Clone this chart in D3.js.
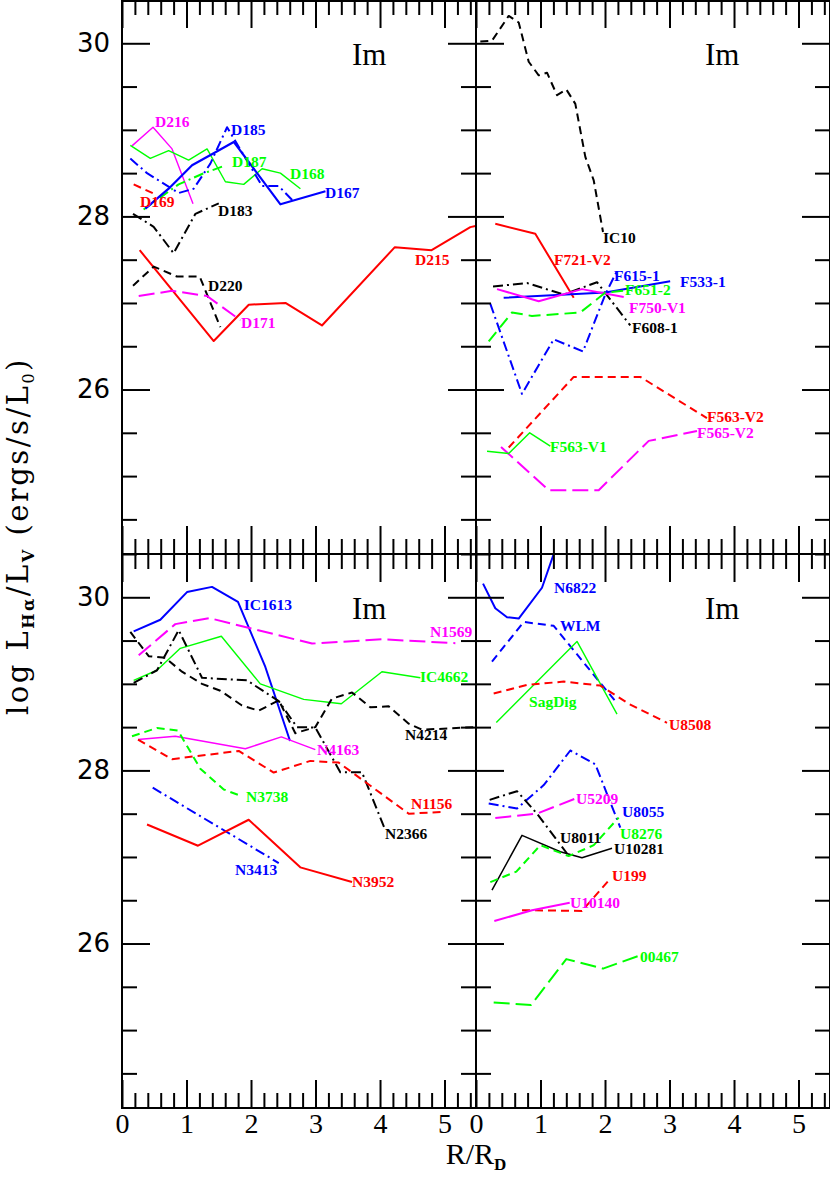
<!DOCTYPE html>
<html><head><meta charset="utf-8">
<script src="https://cdn.jsdelivr.net/npm/d3@7"></script>
<style>
html,body{margin:0;padding:0;background:#fff;}
svg{display:block;}
</style>
</head><body>
<svg id="chart" width="830" height="1179"></svg>
<script>
// ---------------- DATA ----------------
const xMajorTicks = [0, 1, 2, 3, 4, 5];
const yMajorTicks = [26, 28, 30];
const panelTag = "Im";

// Top-left panel
const tlNames = ["D215","D220","D171","D183","D169","D216","D168","D187","D185","D167"];
const tlX = [
  [0.274,1.422,1.965,2.534,3.10,4.23,4.80,5.40,5.48],
  [0.171,0.491,0.853,1.205,1.525],
  [0.259,0.776,1.318,1.836],
  [0.171,0.491,0.80,1.138,1.50],
  [0.181,0.517],
  [0.155,0.481,0.776,1.101],
  [0.129,0.439,0.723,1.033,1.319,1.603,1.887,2.172,2.456,2.766],
  [0.335,0.878,1.241,1.603],
  [0.129,0.388,0.878,1.111,1.370,1.629,2.172,2.43,2.638],
  [0.362,0.723,1.086,1.421,1.732,2.456,3.154]
];
const tlY = [
  [27.61,26.56,26.98,27.00,26.74,27.645,27.61,27.876,27.89],
  [27.20,27.42,27.305,27.305,26.72],
  [27.08,27.14,27.08,26.80],
  [28.03,27.88,27.575,28.03,28.15],
  [28.37,28.255],
  [28.815,29.03,28.78,28.147],
  [28.82,28.67,28.76,28.65,28.78,28.40,28.37,28.55,28.50,28.32],
  [28.08,28.37,28.49,28.59],
  [28.668,28.50,28.27,28.32,28.61,29.03,28.35,28.35,28.19],
  [28.09,28.32,28.59,28.73,28.86,28.14,28.29]
];

// Top-right panel
const trNames = ["IC10","F721-V2","F608-1","F533-1","F750-V1","F651-2","F615-1","F563-V2","F565-V2","F563-V1"];
const trX = [
  [0.067,0.248,0.507,0.662,0.817,0.972,1.101,1.256,1.40,1.54,1.695,1.825,1.969],
  [0.299,0.919,1.515],
  [0.264,0.791,1.36,1.876,2.392],
  [0.429,2.005,3.01],
  [0.326,0.972,1.643,2.29],
  [0.197,0.558,0.868,1.617,2.005,2.28],
  [0.222,0.713,1.205,1.659,2.005,2.186],
  [0.507,1.515,2.547,3.58],
  [0.388,1.127,1.902,2.678,3.426],
  [0.171,0.507,0.833,1.152]
];
const trY = [
  [30.02,30.03,30.316,30.24,29.787,29.63,29.66,29.40,29.467,29.30,28.687,28.417,27.82],
  [27.915,27.80,27.06],
  [27.19,27.23,27.097,27.24,26.74],
  [27.06,27.12,27.25],
  [27.16,27.02,27.16,27.07],
  [26.556,26.89,26.85,26.89,27.12,27.14],
  [26.99,25.95,26.58,26.44,27.10,27.37],
  [25.33,26.146,26.146,25.67],
  [25.337,24.837,24.837,25.407,25.52],
  [25.288,25.26,25.50,25.345]
];

// Bottom-left panel
const blNames = ["IC1613","N1569","IC4662","N4214","N2366","N4163","N1156","N3738","N3413","N3952"];
const blX = [
  [0.181,0.594,1.008,1.395,1.798,2.222,2.605],
  [0.259,0.826,1.353,2.946,4.03,5.168],
  [0.181,0.543,0.904,1.54,2.144,2.817,3.40,4.03,4.625],
  [0.129,0.414,0.671,0.930,1.24,1.525,1.86,2.12,2.43,2.687,2.997,3.256,3.566,3.85,4.134,4.445,4.65,5.48],
  [0.181,0.543,0.879,1.240,1.938,2.43,2.713,2.997,3.384,3.72,4.082],
  [0.248,0.826,1.912,2.47,2.997],
  [0.248,0.775,1.81,2.352,2.92,3.36,4.445,4.96],
  [0.155,0.543,0.868,1.214,1.577,1.86],
  [0.476,2.43],
  [0.388,1.178,1.964,2.764,3.566]
];
const blY = [
  [29.607,29.74,30.06,30.12,29.946,29.195,28.34],
  [29.33,29.69,29.76,29.465,29.515,29.47],
  [29.04,29.157,29.41,29.55,29.00,28.82,28.77,29.14,29.07],
  [29.60,29.32,29.30,29.14,29.00,28.92,28.75,28.69,28.81,28.43,28.50,28.83,28.90,28.73,28.74,28.54,28.47,28.50],
  [29.01,29.157,29.62,29.07,29.04,28.80,28.50,28.495,27.98,27.98,27.31],
  [28.356,28.395,28.25,28.387,28.24],
  [28.356,28.13,28.225,27.975,28.11,28.09,27.50,27.52],
  [28.395,28.49,28.46,28.02,27.78,27.70],
  [27.80,26.93],
  [27.375,27.13,27.43,26.88,26.71]
];

// Bottom-right panel
const brNames = ["N6822","WLM","SagDig","U8508","U8055","U8011","U10281","U8276","U5209","U199","U10140","00467"];
const brX = [
  [0.109,0.299,0.481,0.662,1.023,1.205],
  [0.248,0.74,1.205,1.953,2.16],
  [0.315,1.566,2.186],
  [0.274,0.791,1.36,1.927,2.367,2.961],
  [0.197,0.636,1.05,1.462,1.85,2.237],
  [0.212,0.636,0.946,1.411],
  [0.248,0.713,1.307,1.643,2.109],
  [0.222,0.625,0.997,1.437,1.825,2.212],
  [0.299,0.946,1.54],
  [0.713,1.643,2.082],
  [0.284,0.868,1.453],
  [0.274,0.853,1.40,1.969,2.547]
];
const brY = [
  [30.158,29.873,29.77,29.754,30.11,30.50],
  [29.257,29.715,29.67,28.987,28.80],
  [28.553,29.49,28.65],
  [28.888,28.987,29.026,28.98,28.77,28.55],
  [27.617,27.56,27.83,28.23,28.07,27.34],
  [27.66,27.76,27.50,27.04],
  [26.616,27.25,27.06,26.99,27.10],
  [26.71,26.83,27.136,27.01,27.136,27.455],
  [27.45,27.50,27.675],
  [26.385,26.377,26.75],
  [26.26,26.385,26.47],
  [25.32,25.29,25.82,25.71,25.865]
];

// ---------------- LABEL ANCHORS (data units, left/middle of text) ----------------
const labelAt = {
  "D216":[0.512,29.10],"D185":[1.69,29.0],"D187":[1.705,28.63],"D168":[2.605,28.50],"D167":[3.147,28.28],
  "D169":[0.279,28.175],"D183":[1.488,28.07],"D220":[1.333,27.205],"D171":[1.845,26.77],"D215":[4.543,27.505],
  "IC10":[1.969,27.76],"F721-V2":[1.209,27.505],"F615-1":[2.14,27.32],"F533-1":[3.163,27.25],"F651-2":[2.31,27.15],
  "F750-V1":[2.372,26.95],"F608-1":[2.419,26.71],"F563-V2":[3.58,25.69],"F565-V2":[3.426,25.50],"F563-V1":[1.147,25.345],
  "IC1613":[1.887,29.92],"N1569":[4.775,29.60],"IC4662":[4.62,29.08],"N4214":[4.388,28.41],"N4163":[3.023,28.245],
  "N1156":[4.48,27.62],"N3738":[1.922,27.70],"N2366":[4.078,27.27],"N3413":[1.752,26.85],"N3952":[3.566,26.71],
  "N6822":[1.209,30.11],"WLM":[1.302,29.67],"SagDig":[0.822,28.80],"U8508":[2.992,28.53],"U5209":[1.55,27.68],
  "U8055":[2.264,27.52],"U8276":[2.233,27.27],"U8011":[1.302,27.22],"U10281":[2.14,27.10],"U199":[2.109,26.78],
  "U10140":[1.457,26.47],"00467":[2.543,25.85]
};

// ---------------- STYLES ----------------
const RED="#ff0000", BLUE="#0000ff", GREEN="#00ff00", MAG="#ff00ff", BLK="#000000";
const DASH="8,5", LDASH="16,6", DDOT="10,4,2,4", SOLID=null;
const styleOf = {
  "D215":[RED,SOLID,2],"D220":[BLK,DASH,2],"D171":[MAG,LDASH,2],"D183":[BLK,DDOT,2],"D169":[RED,DASH,2],
  "D216":[MAG,SOLID,1.4],"D168":[GREEN,SOLID,1.4],"D187":[GREEN,DDOT,2],"D185":[BLUE,DDOT,2],"D167":[BLUE,SOLID,2.2],
  "IC10":[BLK,DASH,2],"F721-V2":[RED,SOLID,2],"F608-1":[BLK,DDOT,2],"F533-1":[BLUE,SOLID,2],"F750-V1":[MAG,SOLID,2],
  "F651-2":[GREEN,"12,6",2],"F615-1":[BLUE,DDOT,2],"F563-V2":[RED,DASH,2],"F565-V2":[MAG,LDASH,2],"F563-V1":[GREEN,SOLID,1.5],
  "IC1613":[BLUE,SOLID,2],"N1569":[MAG,LDASH,2],"IC4662":[GREEN,SOLID,1.4],"N4214":[BLK,DASH,2],"N2366":[BLK,DDOT,2],
  "N4163":[MAG,SOLID,1.5],"N1156":[RED,DASH,2],"N3738":[GREEN,DASH,2],"N3413":[BLUE,DDOT,2],"N3952":[RED,SOLID,2],
  "N6822":[BLUE,SOLID,2],"WLM":[BLUE,DASH,2],"SagDig":[GREEN,SOLID,1.4],"U8508":[RED,DASH,2],"U8055":[BLUE,DDOT,2],
  "U8011":[BLK,DDOT,2],"U10281":[BLK,SOLID,1.5],"U8276":[GREEN,DASH,2],"U5209":[MAG,LDASH,2],"U199":[RED,DASH,2],
  "U10140":[MAG,SOLID,2],"00467":[GREEN,LDASH,2]
};

// ---------------- LAYOUT ----------------
const svg = d3.select("#chart");
const X_DOMAIN = [0, 5.488], Y_DOMAIN = [24.1, 30.5];
const cols = [[122, 476], [476, 830]];
const rows = [[0, 554], [554, 1108]];

const panels = [
  {names: tlNames, xs: tlX, ys: tlY, c: 0, r: 0},
  {names: trNames, xs: trX, ys: trY, c: 1, r: 0},
  {names: blNames, xs: blX, ys: blY, c: 0, r: 1},
  {names: brNames, xs: brX, ys: brY, c: 1, r: 1}
];

const xMinor = d3.range(0, 5.49, 0.2).map(v => +v.toFixed(2)).filter(v => !xMajorTicks.includes(v));
const yMinor = d3.range(24.5, 30.51, 0.5).map(v => +v.toFixed(2)).filter(v => !yMajorTicks.includes(v));
const intFmt = d3.format("d");

panels.forEach((p, i) => {
  const x = d3.scaleLinear().domain(X_DOMAIN).range(cols[p.c]);
  const y = d3.scaleLinear().domain(Y_DOMAIN).range([rows[p.r][1], rows[p.r][0]]);
  const g = svg.append("g");
  const clipId = "clip" + i;
  svg.append("clipPath").attr("id", clipId).append("rect")
    .attr("x", cols[p.c][0]).attr("y", rows[p.r][0])
    .attr("width", cols[p.c][1] - cols[p.c][0]).attr("height", rows[p.r][1] - rows[p.r][0]);

  // series lines
  const line = d3.line().x(d => x(d[0])).y(d => y(d[1]));
  const lg = g.append("g").attr("clip-path", `url(#${clipId})`);
  p.names.forEach((nm, k) => {
    const pts = p.xs[k].map((xv, j) => [xv, p.ys[k][j]]);
    const st = styleOf[nm];
    lg.append("path").datum(pts).attr("d", line)
      .attr("fill", "none").attr("stroke", st[0]).attr("stroke-width", st[2])
      .attr("stroke-dasharray", st[1]).attr("stroke-linejoin", "round");
  });
  // labels
  p.names.forEach(nm => {
    const a = labelAt[nm];
    g.append("text").attr("x", x(a[0])).attr("y", y(a[1]))
      .attr("dy", "0.35em")
      .attr("font-family", "'Liberation Serif', 'DejaVu Serif', serif")
      .attr("font-weight", "bold").attr("font-size", 15.5)
      .attr("fill", styleOf[nm][0]).text(nm);
  });

  // axes
  const styleAxis = sel => {
    sel.select(".domain").remove();
    sel.selectAll(".tick line").attr("stroke", "#000").attr("stroke-width", 2);
  };
  const tickAxis = (axisFn, scale, vals, size, translate, labels) => {
    const ax = axisFn(scale).tickValues(vals).tickSize(-size).tickSizeOuter(0)
      .tickFormat(labels ? intFmt : "");
    return g.append("g").attr("transform", translate).call(ax).call(styleAxis);
  };
  const L = cols[p.c][0], R = cols[p.c][1], T = rows[p.r][0], B = rows[p.r][1];
  // top & bottom
  tickAxis(d3.axisTop, x, xMajorTicks, 28, `translate(0,${T})`, false);
  tickAxis(d3.axisTop, x, xMinor, 15, `translate(0,${T})`, false);
  tickAxis(d3.axisBottom, x, xMinor, 15, `translate(0,${B})`, false);
  const bx = tickAxis(d3.axisBottom, x, xMajorTicks, 28, `translate(0,${B})`, p.r === 1);
  if (p.r === 1) {
    bx.selectAll(".tick text").attr("font-family", "'Liberation Serif', serif")
      .attr("font-size", 28).attr("fill", "#000").attr("y", 5);
  }
  // left & right
  const lx = tickAxis(d3.axisLeft, y, yMajorTicks, 28, `translate(${L},0)`, p.c === 0);
  tickAxis(d3.axisLeft, y, yMinor, 15, `translate(${L},0)`, false);
  tickAxis(d3.axisRight, y, yMajorTicks, 28, `translate(${R},0)`, false);
  tickAxis(d3.axisRight, y, yMinor, 15, `translate(${R},0)`, false);
  if (p.c === 0) {
    lx.selectAll(".tick text").attr("font-family", "'DejaVu Sans', sans-serif")
      .attr("font-size", 26).attr("fill", "#000").attr("x", -12);
  }
  // frame
  g.append("rect").attr("x", L).attr("y", T + (p.r === 0 ? 1 : 0)).attr("width", R - L)
    .attr("height", B - T - (p.r === 0 ? 1 : 0))
    .attr("fill", "none").attr("stroke", "#000").attr("stroke-width", 2);

  // "Im" tag
  g.append("text").attr("x", L + (p.c === 0 ? 230 : 229)).attr("y", T + 65)
    .attr("font-family", "'Liberation Serif', serif").attr("font-size", 31)
    .attr("fill", "#000").text(panelTag);
});

// axis titles
const yt = svg.append("text")
  .attr("transform", "translate(28,536) rotate(-90)")
  .attr("text-anchor", "middle")
  .attr("font-family", "'DejaVu Serif', serif").attr("font-size", 29)
  .attr("letter-spacing", 2.5)
  .attr("fill", "#000");
yt.append("tspan").text("log L");
yt.append("tspan").attr("font-size", 16).attr("font-weight", "bold").attr("dy", 6).text("Hα");
yt.append("tspan").attr("dy", -6).text("/L");
yt.append("tspan").attr("font-size", 16).attr("font-weight", "bold").attr("dy", 6).text("V");
yt.append("tspan").attr("dy", -6).text(" (ergs/s/L");
yt.append("tspan").attr("font-size", 16).attr("dy", 6).text("0");
yt.append("tspan").attr("dy", -6).text(")");

const xt = svg.append("text")
  .attr("x", 476).attr("y", 1164).attr("text-anchor", "middle")
  .attr("font-family", "'Liberation Serif', serif").attr("font-size", 30).attr("fill", "#000");
xt.append("tspan").text("R/R");
xt.append("tspan").attr("font-size", 17).attr("font-weight", "bold").attr("dy", 6).text("D");
</script>
</body></html>
